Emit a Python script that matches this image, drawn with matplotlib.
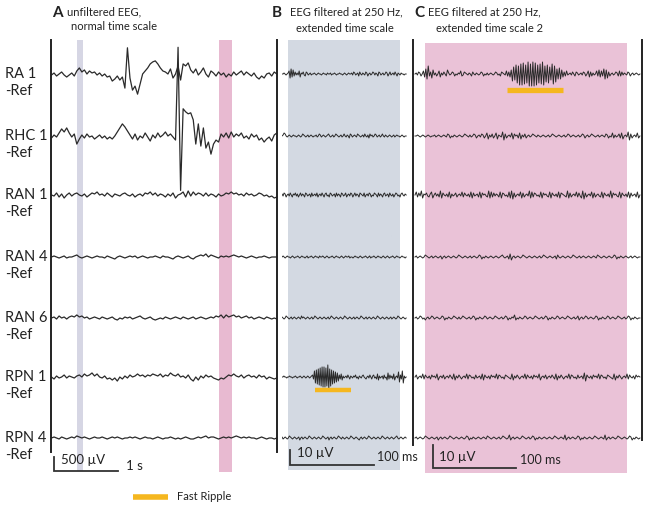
import numpy as np
import matplotlib.pyplot as plt
from matplotlib.lines import Line2D

plt.rcParams['font.family'] = ['Lato', 'DejaVu Sans']

channels = ['RA 1', 'RHC 1', 'RAN 1', 'RAN 4', 'RAN 6', 'RPN 1', 'RPN 4']

# ---- panel A: unfiltered EEG, one value every ~39 ms, in steps of 36 uV ----
A_STEP_UV = 36.0
A_DUR_S = 3.52
a_ra1 = [-1, 1, -2, 0, 2, -1, -3, -1, 1, -2,
         3, 6, 2, 4, 0, 3, 1, 2, -1, 1,
         -2, 0, -3, -2, -7, -5, -2, -6, -3, -14,
         26, -4, -16, -12, -20, -10, 0, 3, 6, 10,
         12, 13, 10, 6, 3, 2, 0, 5, -4, 0,
         8, -6, 10, 8, 11, 4, 1, 5, -1, 2,
         6, 0, -3, 3, 1, -2, 2, -1, 1, -3,
         0, -2, 2, -1, 1, 3, -1, 2, 0, -2,
         1, -3, -5, -2, -4, 0, 1, -2, 2, 0]
a_rhc1 = [-2, 1, -1, 3, 7, 4, 8, 3, -1, 2,
          -8, -3, 1, -2, 2, -1, 0, -3, -1, 1,
          -2, 0, -3, -1, -3, 0, 4, 8, 12, 9,
          5, 1, -3, 2, -4, 0, -2, 3, -1, -5,
          1, -2, 3, -1, 1, 4, 0, 2, -1, -4,
          88, -54, 27, 24, 22, 23, 16, -8, 12, -10,
          8, -12, -6, -18, -8, -4, -6, 2, -1, 3,
          -2, 4, -1, 2, 0, 3, -2, 0, -3, 2,
          -1, 1, -4, -2, -6, -3, -1, -5, 1, 3]
a_ran1 = [0, -1, 2, -2, 1, -3, 0, 2, -1, 1, 2, 0, -1, 1, -2, 0, 2, 1, 3, 0,
          1, -1, 2, 0, -2, 1, 0, -1, 1, 2, 0, -1, 1, -2, 0, 1, -1, 2, 1, 3,
          0, 2, -1, 1, 0, -2, 1, -1, 2, -3, 0, 1, 3, -2, 4, -1, 3, 0, 2, 1,
          -1, 2, -1, 1, 0, -2, 1, -1, 0, 2, 1, 3, 1, 2, 0, 1, -1, 2, 0, 1,
          -1, 0, 2, 1, -1, 0, -2, -1, -3, -2]
a_ran4 = [0, 1, 0, -1, 0, 1, -1, 0, 0, 1, 2, 0, -1, 0, 1, 0, -1, 0, 1, 0,
          0, -1, 1, 0, -1, -2, 0, 1, 0, -1, 0, 1, 0, 1, -1, 0, 1, 0, -1, 0,
          0, 1, 0, -1, 1, 0, 0, -1, -2, 0, 1, 0, -1, 0, 1, -1, -2, 0, 1, 2,
          1, 3, 0, 2, 1, 0, -1, 1, 0, 1, 0, 1, 2, 1, 0, 1, 0, -1, 0, 1,
          0, -1, 0, 0, 1, 0, -1, 0, 0, 0]
a_ran6 = [0, 1, -1, 2, 0, 1, -1, 1, 2, 1, 3, 1, 2, 0, 1, -1, 0, 1, 0, -1,
          1, 0, -1, 0, 1, -1, -2, 0, -1, 1, 0, 1, -1, 0, 1, 2, 0, -1, 0, 1,
          -1, -2, -1, 0, -1, 1, 0, -1, 0, 1, 0, -1, 1, 0, -1, 0, 1, -1, 0, 1,
          0, -1, 0, 1, 0, 2, 1, 3, 0, 3, 1, 2, 3, 1, 2, 0, 1, 2, 0, 1,
          -1, 0, 1, 0, -1, 1, 0, -1, 0, -1]
a_rpn1 = [0, -2, 1, -1, 0, 2, -1, 1, 0, -1, 1, 2, 0, 3, 1, 2, 4, 1, 3, 0,
          -1, 1, -2, -1, -3, -1, -4, 0, -2, 1, -1, 2, 0, 1, 3, 1, 2, 0, 2, 1,
          3, 2, 1, 3, 0, 2, 1, 4, 2, 1, 3, 0, 1, -1, 2, -2, -4, 0, -3, 1,
          -1, 2, 0, 1, -1, -2, -3, -1, -2, 0, 2, 1, 3, 1, 0, 2, -1, 1, 2, 0,
          1, -1, 2, 0, 1, -2, 0, -1, -2, -1]
a_rpn4 = [0, 1, 0, -1, 1, 0, -1, 0, 1, 0, 2, 1, 0, 1, 0, -1, 0, 1, 0, 0,
          1, 0, -1, 0, 1, 0, 1, 0, -1, 0, 0, 1, 0, 1, 0, -1, 0, 1, 0, 0,
          -1, 0, 1, 0, -1, 0, 0, 1, 0, -1, 0, -1, 0, 1, 0, -1, -1, 0, 1, 0,
          1, 2, 0, 1, 1, 0, -1, 0, 1, 0, 1, 0, 1, 2, 1, 0, 1, 0, 1, 0,
          0, -1, 0, 1, 0, -1, 0, 0, -1, 0]
a_traces = [a_ra1, a_rhc1, a_ran1, a_ran4, a_ran6, a_rpn1, a_rpn4]

# ---- panels B and C: filtered at 250 Hz, one letter per sample, 'm' = 0 ----
B_STEP_UV = 0.67
B_DUR_S = 0.149
b_ra1 = ("mmmnmlmn"
         "pirjqkolnlpjnmolkonlmnlm"
         "mnmlmnmmlmnmmlnmmnlmmnmlmmnmmlmnmlmnmm"
         "nlonlmnkomlnmlonkmnlmonlnmkonlmnlmonkmolmnlomknmlnmmlmm")
b_rhc1 = ("mmnpomlmnmlmnmmlmnmlmonmlmnlmnmlmmnlmonlmnmlmn"
          "omlmnlmonmlmnlmomlnmkonlmnmlonmlmnlomlnkomnlmo"
          "nlmnlmomlnmlmnmlmnlmnmmlmnmlmm")
b_ran1 = ("mnlonkmnlomknmolnkmolnmkonlmnkolmnlokmnlomknol"
          "mkonlmnkolnmkonlmokmnlonkmolnmkonmlokmnlonkmlo"
          "nmkolnmknolmnkomlnkmonlmknomlnm")
b_ran4 = ("mmnmlmnmmlmnmlmmnmlmnmmlmnlmmnmlmnmmlnmmnmlmnm"
          "lmmnmlmnmmlmnmlmnmmnlmmlmnmmlmnmlmmnmlmnlmmnml"
          "mnmmlmnmlmnmlmmnmlmnmmlmnmmlm")
b_ran6 = ("mnmlmonmlmnlmnmlmnmlomnmlmnmlmnlmonmlmnmlmnmlm"
          "nlmonmlmnmlmnmlmonmlmnmlmnlmnmlmonmlmnlmnmlmnm"
          "lmonmlmnmlmnmlmnlmnmlmonmlmnmlm")
b_rpn1 = ("mmmnmmlmmnmmlmmnmlmmnmlmnmlmnmlmn"
          "oksgtfuevdwcwcvdyaudtfsgrhqiokpjnl"
          "mnlomknmlnmolmknmlnomlkmnlomknolmkpjnlmnkolmjq"
          "kolnkpjmnlrhoksgnlm")
b_rpn4 = ("mnlmnmlmonmlmnmlmnkmnlmnmlmonmlmnmlmnmlmonmlmn"
          "kmnlmnmlmonmlnmlmnmlmonmlmnmlkmnlmnmlmonmlmnml"
          "mnmlmonmlmnmlmnmlmnomlmnmlmnm")
b_traces = [b_ra1, b_rhc1, b_ran1, b_ran4, b_ran6, b_rpn1, b_rpn4]

C_STEP_UV = 0.435
C_DUR_S = 0.271
c_ra1 = ("mnlonkmpjrhukoiqlnkmpjnlomkq"
         "nlmonkmlnmpklonmlnmkomlnmlmonkmlnlmnmlmonlmkonmlpkoj"
         "qftgvdubwbxcvdyawayaxbvdwcybuevdtgwcuerhshqjokpl"
         "mnlomkonlmnlonkmpjoknlmpkqjpkrhqiokmnlmonkpkolnmlonkmnlmnmlm")
c_rhc1 = ("mmnmlmnmlmnmlmmnlmnmlmnmlonkmlnmlmnmlmonmlnlmo"
          "nkmnlonkmpjnlokmpjnmlqiokmnlpjomnkpjnlokmnlmon"
          "mlnmlmnmlmnlmonmlmnmlmnlmonlmnmlmnlmonkmnlmonm"
          "lmnlmnmlonkmlpknlmokpjmnlqiokmnlpkm")
c_ran1 = ("mpkolqjnmolknpjmolnkqjomlnkpjnlmokmnlpkomlnkpj"
          "olmnkpjomnlkqjpkolnmkpjonlmkpjqiokmnlpjokmnlqj"
          "pkonlmkpjomnlkpjomlnkpjonmlkqjokmnlpkoljqiokmn"
          "lpjokmnlkpjomlnkqjomnlkpjomlnkpjolmnkpjm")
c_ran4 = ("mnlmnmlmonmlmnlmnmlmnkmnlmnmlmnmlmonmlmnmlmnlm"
          "nmlmonkmlnmlmnmlmnmlmnomlmnkpjmnlmnmlmonmlmnml"
          "mnmlmnlmonmlmnmlmnkomlmnmlmnmlmonmlmnlmnmlmnml"
          "mnmlonmlmnmlmnmlmonkmlnmlmnmlmnlmnmlmm")
c_ran6 = ("mnlmonlmkmnlmonlmnmlmonkmlnmlmonmlnlmonmlmnlmo"
          "nkmlnmlmonlmnmlmonmlmnlmonkmlnmpkmlnmlmonlmnml"
          "monmlmnlmonkmlnmlmonlmnmlmonmlmnlmokmnlmonlmnm"
          "lmonkmlnmlmonlmnmlmonmlmnlmonkmlnmlmm")
c_rpn1 = ("mokmnlpkomlnkomnlpjmnlokmnlomkpjnlomkmnlpkonlm"
          "kolmnkpjomlnkomnlpkonlmkonmlkpjnlomkmnlpkomlnk"
          "omnlpjmnlokmnlomkpjnlomkmnlpkonlmkolmnkqiomlnk"
          "omnlpkonlmkonmlkpjnlomkmnlpkomlnkomnm")
c_rpn4 = ("mnlmnmlmonmlmnmlmnkmnlmnmlmonmlmnmlmnmlmonkmln"
          "mlmnmlmnmlonmlmnmlmnlmonmlmpkmnlmnmlmonmlmnlmo"
          "nkmlnmlmnmlmnmlmonmlmnmlpkmnlmnmlmonkmlnmlmnml"
          "monmlmnmlpkmnlmnmlmonmlmnmlmonkmlnmlm")
c_traces = [c_ra1, c_rhc1, c_ran1, c_ran4, c_ran6, c_rpn1, c_rpn4]

fast_ripple_b = (0.040, 0.083)   # s, on RPN 1
fast_ripple_c = (0.111, 0.178)   # s, on RA 1


def decode(s):
    return np.array([ord(c) - ord('m') for c in s], dtype=float)


# layout, in pixels of the 651x508 picture
W, H = 651, 508
ROW_PX = [74, 136, 195, 257, 318, 377, 438]
TRACE = '#2a2a2a'
ORANGE = '#f5b71f'
GREY_BAND = '#d6d6e4'
PINK_BAND = '#e8bad1'
GREY_BOX = '#d3d9e2'
PINK_BOX = '#eac2d7'

fig = plt.figure(figsize=(W / 100, H / 100), dpi=100)


def panel(xa, xb, p0, px_per_s, uv_per_px):
    ax = fig.add_axes([xa / W, 0, (xb - xa) / W, 1])
    ax.set_xlim((xa - p0) / px_per_s, (xb - p0) / px_per_s)
    ax.set_ylim((ROW_PX[0] - H) * uv_per_px, ROW_PX[0] * uv_per_px)
    ax.axis('off')
    tx = lambda px: (px - p0) / px_per_s
    ty = lambda px: (ROW_PX[0] - px) * uv_per_px
    return ax, tx, ty


def frac(py):
    return 1 - py / H


def ftext(x, y, s, **kw):
    kw.setdefault('va', 'center')
    kw.setdefault('color', '#222222')
    fig.text(x / W, 1 - y / H, s, **kw)


def scale_bar(ax, x0, y0, dt, duv):
    ax.plot([x0, x0, x0 + dt], [y0 + duv, y0, y0], color='#333333', lw=1.3,
            solid_joinstyle='miter')


# ---------------- A ----------------
axA, tx, ty = panel(40, 282, 51.5, 64, 500 / 14)
axA.axvspan(tx(77), tx(83), frac(471), frac(40), color=GREY_BAND, lw=0, zorder=0)
axA.axvspan(tx(219), tx(232), frac(472), frac(40), color=PINK_BAND, lw=0, zorder=0)
for i, tr in enumerate(a_traces):
    v = np.array(tr, dtype=float) * A_STEP_UV
    t = np.linspace(0, A_DUR_S, len(v))
    axA.plot(t, ty(ROW_PX[i]) + v, color=TRACE, lw=0.9)
for xp in (51, 276.5):
    axA.plot([tx(xp)] * 2, [ty(40), ty(452)], color='#222222', lw=1.4)
scale_bar(axA, tx(54), ty(471), 1.0, 500)

# ---------------- B ----------------
axB, tx, ty = panel(282, 414, 281, 840, 10 / 15)
axB.axvspan(tx(288), tx(400), frac(470), frac(40), color=GREY_BOX, lw=0, zorder=0)
for i, s in enumerate(b_traces):
    v = decode(s) * B_STEP_UV
    t = np.linspace(0, B_DUR_S, len(v))
    axB.plot(t, ty(ROW_PX[i]) + v, color=TRACE, lw=0.7)
axB.plot([tx(413)] * 2, [ty(40), ty(445)], color='#222222', lw=1.4)
axB.plot(fast_ripple_b, [ty(390)] * 2, color=ORANGE, lw=3.2, solid_capstyle='butt')
scale_bar(axB, tx(290), ty(465), 0.1, 10)

# ---------------- C ----------------
axC, tx, ty = panel(414, 651, 415, 830, 10 / 23)
axC.axvspan(tx(425), tx(627), frac(473), frac(43), color=PINK_BOX, lw=0, zorder=0)
for i, s in enumerate(c_traces):
    v = decode(s) * C_STEP_UV
    t = np.linspace(0, C_DUR_S, len(v))
    axC.plot(t, ty(ROW_PX[i]) + v, color=TRACE, lw=0.7)
axC.plot([tx(642)] * 2, [ty(40), ty(440)], color='#222222', lw=1.4)
axC.plot(fast_ripple_c, [ty(90)] * 2, color=ORANGE, lw=3.8, solid_capstyle='butt')
scale_bar(axC, tx(433), ty(468), 0.1, 10)

# ---------------- text ----------------
for name, row in zip(channels, ROW_PX):
    ftext(5, row, name, fontsize=10.5)
    ftext(5, row + 17, '-Ref', fontsize=10.5)

ftext(52, 13, 'A', fontsize=11, fontweight='bold')
ftext(67, 12, 'unfiltered EEG,', fontsize=8)
ftext(71, 27, 'normal time scale', fontsize=8)
ftext(272, 13, 'B', fontsize=11, fontweight='bold')
ftext(290, 12, 'EEG filtered at 250 Hz,', fontsize=8)
ftext(296, 28, 'extended time scale', fontsize=8)
ftext(414, 13, 'C', fontsize=11, fontweight='bold')
ftext(428, 12, 'EEG filtered at 250 Hz,', fontsize=8)
ftext(436, 28, 'extended time scale 2', fontsize=8)

ftext(61, 460, '500 µV', fontsize=9.5)
ftext(126, 466, '1 s', fontsize=9.5)
ftext(297, 453, '10 µV', fontsize=9.5)
ftext(377, 457, '100 ms', fontsize=9)
ftext(439, 457, '10 µV', fontsize=9.5)
ftext(520, 460, '100 ms', fontsize=9)

fig.legend(handles=[Line2D([], [], color=ORANGE, lw=4, solid_capstyle='butt')],
           labels=['Fast Ripple'], loc='center', bbox_to_anchor=(182 / W, 1 - 497 / H),
           frameon=False, fontsize=8, handlelength=3.1, handletextpad=0.8,
           labelcolor='#222222')

fig.savefig('out.png', dpi=100)
